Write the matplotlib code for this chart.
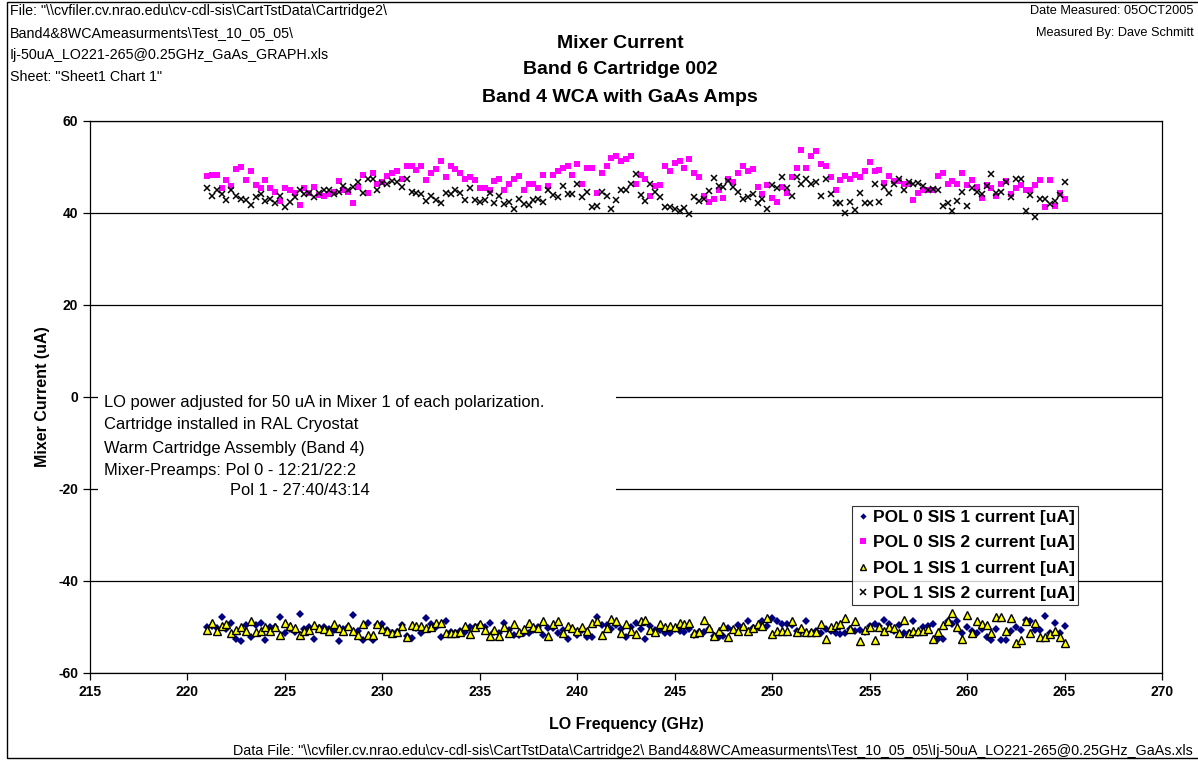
import numpy as np
import matplotlib.pyplot as plt
from matplotlib.patches import Rectangle

plt.rcParams['font.family'] = ['Liberation Sans', 'DejaVu Sans']
plt.rcParams['axes.unicode_minus'] = False

# LO frequency, 221..265 GHz in 0.25 GHz steps
freq = np.arange(221.0, 265.01, 0.25)

pol0_sis1 = [
    -49.9, -49.8, -50.3, -47.9, -50.5, -49.1, -52.5, -53.0, -49.6, -52.1, -49.6, -49.1,
    -52.8, -49.9, -49.9, -47.9, -51.4, -50.5, -51.0, -47.2, -50.5, -50.0, -52.5, -50.3,
    -49.9, -50.5, -50.7, -53.0, -50.5, -49.9, -47.4, -50.8, -52.8, -49.1, -52.8, -49.6,
    -49.3, -50.7, -51.4, -51.0, -49.6, -52.0, -52.3, -50.3, -51.4, -48.1,
    -49.3, -50.1, -52.1, -48.7, -51.0, -51.2, -50.8, -51.0, -49.9, -49.9, -49.6, -49.9,
    -49.1, -51.0, -51.4, -49.1, -50.7, -51.7, -51.7, -51.4, -51.2, -50.7, -49.9, -51.7,
    -50.3, -50.3, -51.2, -50.7, -52.5, -50.5, -51.7, -50.7, -52.1, -52.1, -47.8, -49.6,
    -49.6, -50.5, -49.6, -50.5, -52.1, -50.1, -49.1, -50.5, -52.5,
    -49.8, -50.7, -50.7, -51.2, -51.2, -50.5, -50.8, -51.0, -50.5, -51.7, -51.0, -51.0,
    -50.5, -52.0, -52.2, -52.0, -50.3, -50.7, -49.6, -49.9, -48.8, -50.3, -49.9, -48.8,
    -49.8, -48.1, -48.8, -49.3, -49.3, -49.6, -50.8, -50.8, -48.7, -51.2, -50.8, -51.4,
    -50.5, -50.8, -51.4, -51.6, -51.4, -50.5, -50.8, -50.7, -51.0,
    -49.8, -49.3, -49.8, -48.5, -49.3, -50.8, -49.6, -51.4, -51.2, -48.8, -51.2, -49.9,
    -49.8, -49.3, -52.5, -52.5, -48.8, -49.3, -48.8, -51.4, -49.9, -50.8, -51.4, -50.5,
    -52.2, -52.8, -50.5, -52.8, -52.8, -50.8, -49.9, -50.7, -48.5, -48.8, -50.7, -50.7,
    -47.6, -51.4, -49.1, -51.4, -49.8,
]

pol0_sis2 = [
    48.1, 48.3, 48.3, 45.5, 47.2, 45.9, 49.5, 50.1, 47.2, 49.1, 46.1, 45.5,
    47.2, 45.5, 44.6, 42.7, 45.5, 45.0, 44.4, 41.8, 45.5, 44.4, 45.7, 44.0,
    43.6, 44.1, 44.6, 46.9, 45.0, 44.5, 42.1, 45.7, 48.3, 44.4, 48.6, 46.3,
    46.8, 48.0, 48.8, 49.2, 47.3, 50.3, 50.3, 49.4, 50.3, 47.2,
    48.6, 49.5, 51.4, 47.8, 50.3, 49.5, 48.8, 47.4, 47.8, 47.2, 45.5, 45.5,
    45.1, 46.9, 47.4, 44.9, 46.3, 47.4, 48.0, 44.9, 46.3, 46.3, 45.5, 48.3,
    45.9, 48.3, 49.1, 49.7, 50.3, 48.3, 50.6, 46.3, 49.7, 49.7, 44.3, 48.6,
    50.3, 52.0, 52.5, 51.4, 51.7, 52.3, 46.3, 48.3, 47.4,
    43.8, 45.9, 46.1, 50.3, 49.1, 50.8, 51.2, 49.7, 51.7, 48.6, 47.8, 43.8,
    42.5, 43.0, 45.1, 43.2, 47.5, 46.8, 48.8, 50.3, 49.1, 49.5, 45.7, 44.1,
    46.1, 43.2, 42.4, 45.7, 44.3, 47.8, 49.7, 53.7, 49.7, 52.3, 53.4, 50.6,
    50.3, 47.8, 44.9, 47.2, 48.0, 47.4, 48.3, 47.9, 49.1,
    51.1, 49.1, 49.4, 46.6, 48.0, 46.9, 46.9, 46.3, 46.3, 42.9, 44.4, 45.0,
    44.9, 45.1, 48.0, 48.8, 46.3, 46.9, 46.3, 48.6, 46.0, 47.2, 45.7, 43.2,
    46.1, 45.5, 43.6, 46.3, 46.9, 44.1, 45.5, 46.1, 45.0, 45.0, 46.1, 47.2,
    41.2, 47.2, 41.5, 44.4, 43.0,
]

pol1_sis1 = [
    -50.7, -49.1, -50.8, -49.8, -49.3, -51.4, -50.7, -49.9, -50.9, -48.8, -51.0, -50.9,
    -49.9, -50.9, -49.9, -51.7, -49.1, -49.8, -50.3, -51.7, -50.8, -50.7, -49.6, -50.3,
    -50.5, -50.9, -49.3, -50.3, -50.9, -49.8, -50.8, -51.7, -49.3, -51.7, -51.7, -49.3,
    -50.5, -50.8, -51.4, -51.0, -49.8, -52.1, -49.6, -49.8, -49.8, -50.2,
    -49.9, -49.1, -49.1, -51.2, -51.4, -51.4, -51.0, -49.8, -51.6, -49.9, -49.3, -50.7,
    -51.9, -50.7, -51.9, -49.9, -51.2, -49.3, -51.0, -50.5, -49.1, -49.9, -50.3, -48.6,
    -51.9, -49.3, -48.8, -51.2, -49.8, -50.3, -50.9, -49.9, -50.9, -49.1, -48.6, -51.7,
    -50.3, -48.3, -48.6, -51.2, -49.3, -50.9, -51.6, -48.8, -48.5,
    -50.7, -51.0, -49.3, -49.9, -49.8, -49.9, -49.1, -49.3, -49.2, -51.2, -51.0, -48.5,
    -50.3, -52.0, -50.8, -49.8, -52.2, -50.5, -50.8, -49.8, -50.8, -50.3, -49.3, -49.8,
    -48.1, -51.6, -50.8, -50.8, -50.8, -48.8, -51.0, -50.3, -51.0, -51.0, -51.0, -49.3,
    -52.5, -50.1, -49.6, -49.3, -48.1, -50.5, -48.8, -53.0, -50.7,
    -49.9, -52.9, -49.9, -50.8, -49.9, -50.3, -51.4, -48.5, -51.2, -50.8, -50.8, -50.8,
    -50.5, -52.5, -51.0, -49.6, -48.6, -47.0, -49.9, -52.5, -47.4, -51.4, -48.8, -49.3,
    -49.6, -51.4, -47.9, -47.8, -50.8, -48.1, -53.4, -52.8, -48.8, -51.4, -49.1, -52.2,
    -52.2, -51.6, -50.8, -52.1, -53.4,
]

pol1_sis2 = [
    45.4, 43.6, 44.9, 44.1, 42.8, 45.1, 43.6, 43.0, 42.8, 41.7, 43.4, 44.1,
    42.6, 43.0, 42.1, 43.6, 41.4, 42.3, 43.4, 44.9, 44.1, 44.3, 43.4, 44.3,
    44.9, 44.9, 44.1, 44.6, 45.9, 45.1, 45.7, 46.7, 44.3, 47.5, 47.3, 45.0,
    46.6, 46.4, 47.0, 46.8, 45.7, 47.4, 44.6, 44.3, 44.1, 42.6,
    43.6, 42.8, 42.2, 44.3, 44.1, 44.9, 44.3, 42.8, 45.4, 42.8, 42.5, 42.8,
    44.3, 42.2, 43.7, 42.0, 42.5, 40.8, 43.0, 42.0, 41.7, 42.8, 43.0, 42.3,
    45.1, 43.9, 43.4, 45.9, 44.1, 44.1, 46.3, 43.4, 44.5, 41.4, 41.6, 44.5,
    43.7, 40.8, 42.8, 45.0, 45.0, 46.3, 48.5, 44.0, 42.6,
    46.3, 44.6, 43.4, 41.4, 41.4, 40.8, 40.4, 41.0, 39.7, 43.4, 42.7, 43.0,
    44.8, 47.7, 45.9, 45.6, 47.0, 45.7, 44.5, 43.0, 43.4, 44.1, 42.2, 43.0,
    40.8, 46.1, 45.4, 47.8, 45.4, 43.7, 47.9, 46.4, 47.3, 46.4, 46.7, 43.6,
    47.5, 44.1, 42.1, 42.2, 39.9, 42.3, 40.7, 44.3, 42.2,
    42.2, 46.2, 42.5, 45.6, 44.4, 46.4, 47.3, 45.0, 46.8, 46.2, 46.6, 45.9,
    44.9, 45.2, 45.0, 41.6, 42.2, 40.5, 42.7, 44.6, 41.6, 45.4, 44.6, 44.1,
    45.9, 48.5, 44.3, 44.5, 46.8, 43.4, 47.3, 47.3, 40.5, 43.9, 39.1, 43.0,
    43.0, 42.0, 42.7, 43.9, 46.8,
]

labels = ['POL 0 SIS 1 current [uA]', 'POL 0 SIS 2 current [uA]',
          'POL 1 SIS 1 current [uA]', 'POL 1 SIS 2 current [uA]']

header_lines = ['File: "\\\\cvfiler.cv.nrao.edu\\cv-cdl-sis\\CartTstData\\Cartridge2\\',
                'Band4&8WCAmeasurments\\Test_10_05_05\\',
                'Ij-50uA_LO221-265@0.25GHz_GaAs_GRAPH.xls',
                'Sheet: "Sheet1 Chart 1"']
info_lines = ['Date Measured: 05OCT2005', 'Measured By: Dave Schmitt']
title_lines = ['Mixer Current', 'Band 6 Cartridge 002', 'Band 4 WCA with GaAs Amps']
note_lines = ['LO power adjusted for 50 uA in Mixer 1 of each polarization.',
              'Cartridge installed in RAL Cryostat',
              'Warm Cartridge Assembly (Band 4)',
              'Mixer-Preamps: Pol 0 - 12:21/22:2',
              'Pol 1 - 27:40/43:14']

W, H = 1198, 761
fig = plt.figure(figsize=(W/100, H/100), dpi=100)
ax = fig.add_axes([90/W, 1-673/H, (1162-90)/W, (673-121)/H])

def fx(px):
    return px / W

def fy(py):
    return 1 - py / H

# outer chart border
fig.add_artist(Rectangle((fx(7), 0.004), 1.2, 0.993, transform=fig.transFigure,
                         fill=False, edgecolor='black', linewidth=1.0))

ax.plot(freq, pol0_sis1, linestyle='none', marker='D', markersize=4.2,
        color='#000080', markeredgewidth=0, label=labels[0])
ax.plot(freq, pol0_sis2, linestyle='none', marker='s', markersize=5,
        color='#FF00FF', markeredgewidth=0, label=labels[1])
ax.plot(freq, pol1_sis1, linestyle='none', marker='^', markersize=5.5,
        markerfacecolor='#FFFF00', markeredgecolor='black', markeredgewidth=1.0,
        label=labels[2])
ax.plot(freq, pol1_sis2, linestyle='none', marker='x', markersize=5,
        color='black', markeredgewidth=1.1, label=labels[3])

ax.set_xlim(215, 270)
ax.set_ylim(-60, 60)
ax.set_xticks(np.arange(215, 271, 5))
ax.set_yticks(np.arange(-60, 61, 20))
ax.yaxis.grid(True, color='black', linewidth=0.9)
ax.set_axisbelow(True)
for s in ax.spines.values():
    s.set_color('black')
    s.set_linewidth(0.9)
ax.tick_params(direction='out', length=5, width=0.9, labelsize=10)
for t in ax.get_xticklabels() + ax.get_yticklabels():
    t.set_fontweight('bold')

ax.set_xlabel('LO Frequency (GHz)', fontsize=11.5, fontweight='bold', labelpad=13)
ax.set_ylabel('Mixer Current (uA)', fontsize=11.5, fontweight='bold', labelpad=6)

# white box behind the note, hides the gridlines
ax.add_patch(Rectangle((215.4, -22.3), 242.0 - 215.4, 23.4, facecolor='white',
                       edgecolor='none', zorder=1.5))
note_y = [402, 425, 448, 471, 491]
note_x = [104, 104, 104, 104, 230]
for txt, px, py in zip(note_lines, note_x, note_y):
    fig.text(fx(px), fy(py), txt, ha='left', va='center', fontsize=11.9)

for i, txt in enumerate(title_lines):
    fig.text(fx(620), fy(43 + 27 * i), txt, ha='center', va='center',
             fontsize=14, fontweight='bold')

for i, txt in enumerate(header_lines):
    fig.text(fx(10), fy(11 + 22 * i), txt, ha='left', va='center', fontsize=10.3)

for i, txt in enumerate(info_lines):
    fig.text(fx(1194), fy(11 + 22 * i), txt, ha='right', va='center', fontsize=9.2)

leg = ax.legend(loc='upper left', bbox_to_anchor=(fx(852), fy(506)),
                bbox_transform=fig.transFigure, borderaxespad=0,
                prop={'weight': 'bold', 'size': 12.5}, frameon=True, fancybox=False,
                edgecolor='black', handletextpad=0.1, handlelength=0.9,
                borderpad=0.2, labelspacing=0.6, markerscale=0.75)
leg.get_frame().set_linewidth(0.8)
leg.set_zorder(5)

fig.text(fx(1193), fy(751),
         'Data File: "\\\\cvfiler.cv.nrao.edu\\cv-cdl-sis\\CartTstData\\Cartridge2\\ '
         'Band4&8WCAmeasurments\\Test_10_05_05\\Ij-50uA_LO221-265@0.25GHz_GaAs.xls',
         ha='right', va='center', fontsize=10.3)

fig.savefig('out.png', dpi=100)
